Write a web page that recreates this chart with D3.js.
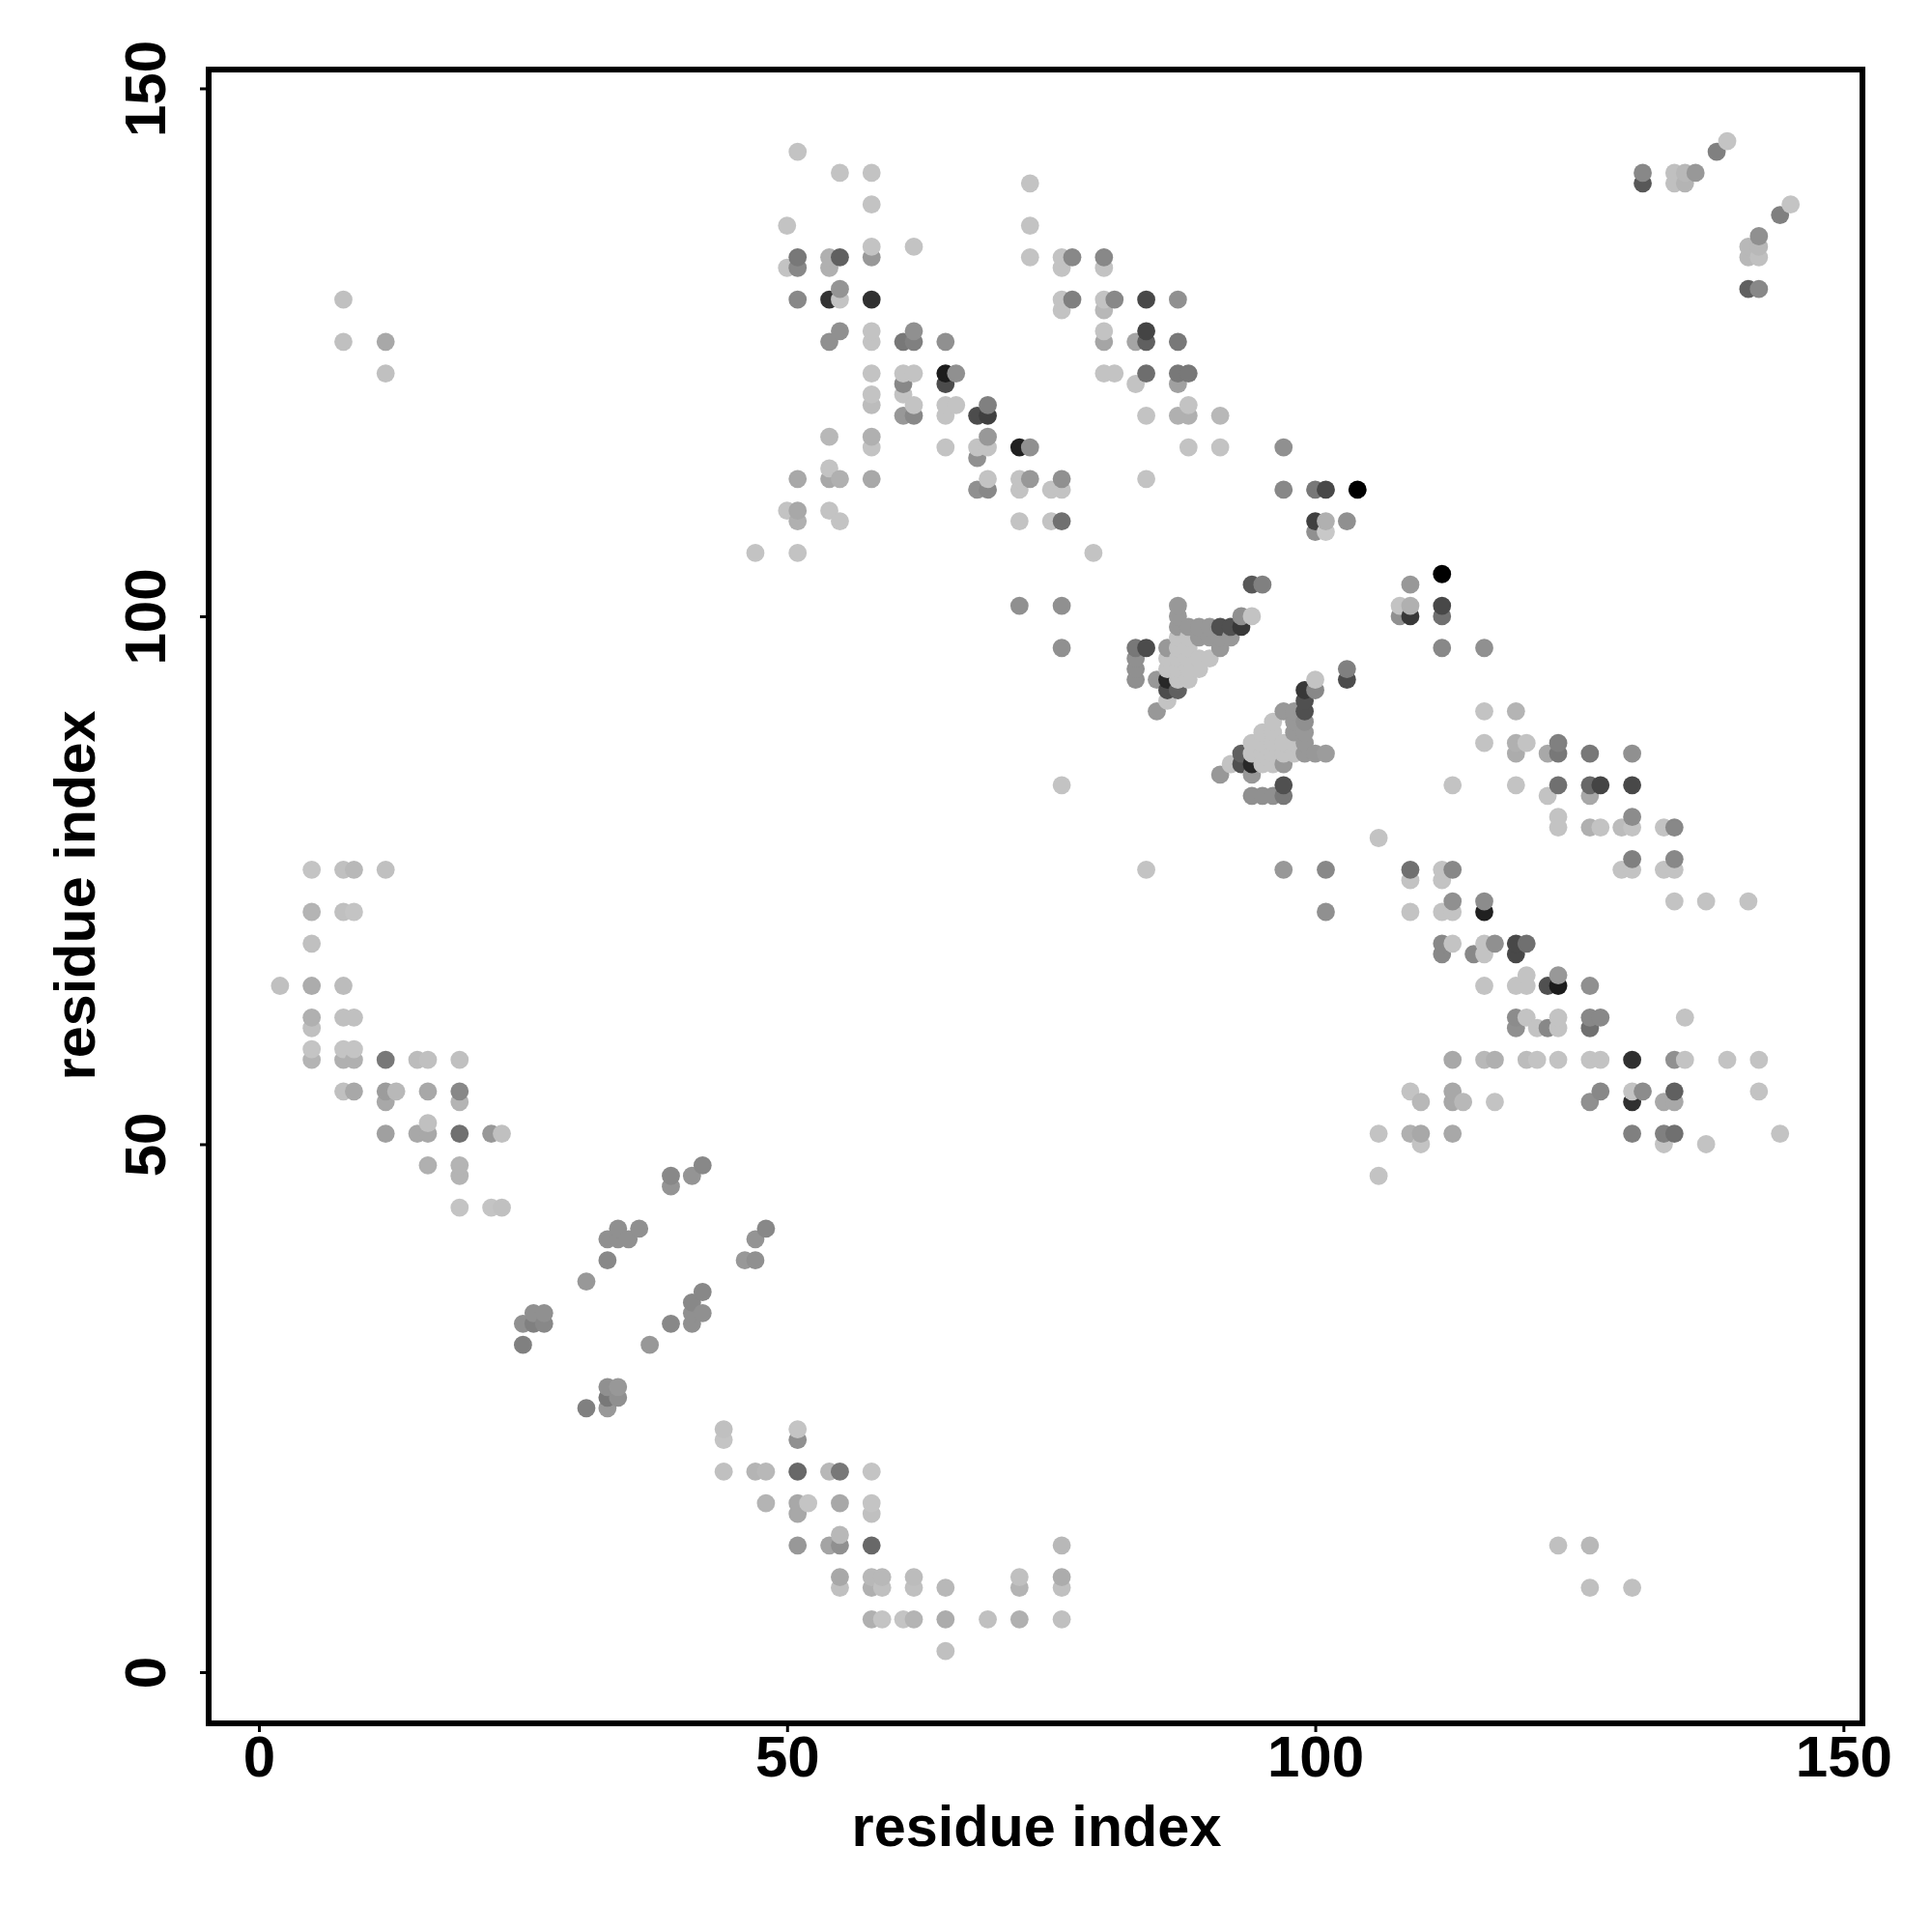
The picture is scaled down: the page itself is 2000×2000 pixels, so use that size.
<!DOCTYPE html>
<html><head><meta charset="utf-8">
<script src="https://cdn.jsdelivr.net/npm/d3@7"></script>
<style>html,body{margin:0;background:#fff}svg{display:block}</style></head>
<body><svg id="c" width="2000" height="2000"></svg>
<script>
// each contact: [residue i, residue j, contact score (0 = none, 255 = strongest)]
const helixLeft = [
[5,76,59],[8,76,63],[9,76,71],[12,76,63],[5,72,75],[8,72,63],[9,72,59],[5,69,63],
[2,65,63],[5,65,83],[8,65,67],[5,62,79],[8,62,63],[9,62,63],[5,61,63],
[5,59,59],[8,59,59],[9,59,59],[5,58,75],[8,58,79],[9,58,79],[12,58,135],[15,58,67],[16,58,63],[19,58,63],
[8,55,63],[9,55,87],[12,55,99],[13,55,71],[16,55,87],[19,55,119],[12,54,87],[19,54,75],[16,52,63],
[12,51,95],[15,51,87],[16,51,87],[19,51,143],[22,51,103],[23,51,63],[16,48,79],[19,48,75],[19,47,75],
[19,44,59],[22,44,59],[23,44,63],[8,130,63],[8,126,63],[12,126,87],[12,123,63]];
const strandCenter = [
[42,48,119],[41,47,107],[39,47,119],[39,46,107],[48,42,119],[47,41,107],[46,39,103],[47,39,111],
[34,42,111],[36,42,111],[33,41,111],[34,41,111],[35,41,111],[33,39,119],[31,37,103],
[42,36,119],[41,35,119],[41,34,111],[42,34,111],[39,33,119],[41,33,111],[37,31,103],
[26,34,111],[27,34,111],[25,33,111],[26,33,127],[27,33,119],[25,31,127],
[33,27,111],[34,27,103],[33,26,135],[34,26,111],[31,25,127],[33,25,103]];
const sheetBottom = [
[44,23,63],[51,23,59],[44,22,59],[51,22,111],[44,19,63],[47,19,75],[48,19,71],[51,19,151],[54,19,71],[55,19,135],[58,19,59],
[48,16,75],[51,16,87],[52,16,59],[55,16,87],[58,16,59],[51,15,87],[58,15,63],[55,13,71],
[51,12,103],[54,12,91],[55,12,111],[58,12,151],[76,12,71],[55,9,87],[58,9,71],[59,9,71],[62,9,67],[72,9,63],[76,9,83],
[55,8,63],[58,8,79],[59,8,63],[62,8,63],[65,8,71],[72,8,75],[76,8,63],
[58,5,79],[59,5,59],[61,5,59],[62,5,75],[65,5,83],[69,5,63],[72,5,79],[76,5,63],[65,2,63],
[123,12,63],[126,12,71],[126,8,63],[130,8,63]];
const sheetTop = [
[51,144,60],[55,142,60],[58,142,60],[73,141,60],[58,139,60],[50,137,60],[73,137,60],[58,135,60],[62,135,60],
[51,134,135],[54,134,79],[55,134,159],[58,134,103],[73,134,60],[76,134,60],[77,134,119],[80,134,119],
[50,133,60],[51,133,119],[54,133,79],[76,133,60],[80,133,60],[55,131,107],
[51,130,119],[54,130,203],[55,130,60],[58,130,207],[76,130,60],[77,130,127],[80,130,60],[81,130,119],[84,130,183],[87,130,111],
[76,129,60],[80,129,71],[55,127,111],[58,127,60],[62,127,111],[80,127,60],[84,127,187],
[54,126,111],[58,126,60],[61,126,135],[62,126,127],[65,126,111],[80,126,90],[83,126,90],[84,126,159],[87,126,135],
[58,123,60],[61,123,60],[62,123,60],[65,123,227],[66,123,111],[80,123,60],[81,123,60],[84,123,145],[87,123,135],[88,123,135],
[61,122,119],[65,122,179],[83,122,60],[87,122,95],[58,121,60],[61,121,60],
[58,120,67],[62,120,60],[65,120,60],[66,120,60],[69,120,127],[88,120,60],
[61,119,103],[62,119,119],[65,119,60],[68,119,179],[69,119,191],[84,119,60],[87,119,79],[88,119,79],[91,119,71],
[54,117,71],[58,117,79],[69,117,103],[58,116,60],[65,116,60],[68,116,60],[69,116,60],[72,116,223],[73,116,111],[88,116,60],[91,116,60],[97,116,111],
[68,115,111],[54,114,60],[51,113,87],[54,113,87],[55,113,79],[58,113,87],[69,113,60],[72,113,60],[73,113,103],[76,113,111],[84,113,60],
[68,112,111],[69,112,119],[72,112,60],[75,112,60],[76,112,60],[97,112,119],[100,112,135],[101,112,183],[104,112,255],
[50,110,60],[51,110,87],[54,110,60],[51,109,79],[55,109,60],[72,109,60],[75,109,60],[76,109,143],
[100,109,191],[101,109,79],[103,109,111],[100,108,111],[101,108,55],[47,106,60],[51,106,60],[79,106,60],
[72,101,111],[76,101,111],[76,97,111],[76,84,60],[84,76,60]];
const clusterUpper = [
[94,103,167],[95,103,127],[87,101,103],[87,100,103],[93,100,111],[94,100,60],
[87,99,103],[88,99,103],[89,99,103],[90,99,103],[91,99,175],[92,99,175],[93,99,199],
[87,98,60],[88,98,60],[89,98,103],[90,98,103],[91,98,103],[92,98,103],
[83,97,135],[84,97,179],[86,97,103],[87,97,60],[88,97,60],[91,97,103],
[83,96,111],[86,96,60],[87,96,60],[88,96,60],[89,96,60],[90,96,60],
[83,95,111],[86,95,60],[87,95,60],[88,95,60],[89,95,60],
[83,94,111],[85,94,103],[86,94,215],[87,94,60],[88,94,60],
[86,93,179],[87,93,159],[86,92,60],[85,91,103],[103,95,127],[103,94,179]];
const clusterLower = [
[100,94,60],[99,93,199],[100,93,119],[99,92,175],[99,91,175],[97,91,103],[98,91,103],
[96,90,60],[98,90,103],[99,90,111],[95,89,60],[96,89,60],[98,89,103],[99,89,103],
[94,88,60],[95,88,60],[96,88,60],[97,88,60],[98,88,60],[99,88,103],
[93,87,159],[94,87,60],[95,87,60],[96,87,60],[97,87,60],[98,87,60],[99,87,103],[100,87,103],[101,87,99],
[92,86,60],[93,86,175],[94,86,215],[95,86,60],[96,86,60],[97,86,103],[91,85,103],[94,85,103],
[97,84,175],[94,83,111],[95,83,111],[96,83,111],[97,83,135]];
const sheetRight = [
[109,103,103],[112,104,255],[108,101,60],[109,101,79],[112,101,183],[108,100,111],[109,100,199],[112,100,143],[112,97,119],[116,97,111],
[116,91,60],[119,91,75],[116,88,60],[119,88,79],[120,88,60],[123,88,127],
[119,87,83],[122,87,87],[123,87,135],[126,87,135],[130,87,111],
[113,84,60],[119,84,60],[123,84,143],[126,84,151],[127,84,187],[130,84,183],[122,83,60],[126,83,87],
[123,81,60],[130,81,115],[123,80,60],[126,80,79],[127,80,60],[129,80,67],[130,80,60],[133,80,60],[134,80,119],
[106,79,60],[130,77,127],[134,77,119],
[97,76,103],[101,76,119],[109,76,143],[112,76,60],[113,76,119],[129,76,60],[130,76,60],[133,76,60],[134,76,60],
[109,75,60],[112,75,60],[113,73,111],[116,73,115],[134,73,60],[137,73,60],[141,73,60],
[101,72,111],[109,72,60],[112,72,60],[113,72,60],[116,72,223],
[112,69,119],[113,69,60],[116,69,60],[117,69,111],[119,69,183],[120,69,143],[112,68,119],[115,68,119],[116,68,60],[119,68,183],
[120,66,60],[123,66,103],[116,65,60],[119,65,60],[120,65,60],[122,65,175],[123,65,227],[126,65,111],
[119,62,115],[120,62,60],[123,62,60],[126,62,119],[127,62,119],[135,62,60],[119,61,111],[121,61,60],[122,61,119],[123,61,60],[126,61,143],
[113,58,87],[116,58,71],[117,58,79],[120,58,67],[121,58,60],[123,58,60],[126,58,60],[127,58,60],[130,58,207],[134,58,111],[135,58,60],[139,58,60],[142,58,60],
[109,55,60],[113,55,87],[127,55,119],[130,55,60],[131,55,115],[134,55,159],[142,55,60],
[110,54,71],[113,54,87],[114,54,71],[117,54,60],[126,54,111],[130,54,207],[133,54,87],[134,54,87],
[106,51,60],[109,51,79],[110,51,87],[113,51,87],[130,51,127],[133,51,127],[134,51,143],[144,51,60],
[110,50,60],[133,50,60],[137,50,60],[106,47,60]];
const cornerTop = [
[131,142,119],[131,141,167],[134,142,63],[134,141,63],[135,142,71],[135,141,75],[136,142,103],
[138,144,127],[139,145,59],[144,138,127],[145,139,59],[142,136,111],[141,135,71],[142,135,71],
[141,134,71],[142,134,63],[141,131,159],[142,131,119]];
const xTicks = [0,50,100,150];
const yTicks = [0,50,100,150];
const axisTitle = "residue index";

const svg = d3.select("#c");
const x = d3.scaleLinear().domain([-4.755,151.8]).range([216,1928]);
const y = d3.scaleLinear().domain([-4.85,151.78]).range([1784,72]);
const shade = d3.scaleLinear().domain([0,255]).range(["#ffffff","#000000"]);
const FONT = "'Liberation Sans',Arial,sans-serif";

const contacts = [].concat(helixLeft,strandCenter,sheetBottom,sheetTop,clusterUpper,clusterLower,sheetRight,cornerTop)
  .sort((a,b)=>d3.ascending(a[0],b[0])||d3.ascending(a[1],b[1]));

svg.append("g").selectAll("circle").data(contacts).join("circle")
  .attr("cx",d=>x(d[0])).attr("cy",d=>y(d[1])).attr("r",9.4).attr("fill",d=>shade(d[2]));

svg.append("rect").attr("x",x.range()[0]).attr("y",y.range()[1])
  .attr("width",x.range()[1]-x.range()[0]).attr("height",y.range()[0]-y.range()[1])
  .attr("fill","none").attr("stroke","#000").attr("stroke-width",6);

const ax = svg.append("g").attr("transform",`translate(0,${y.range()[0]})`)
  .call(d3.axisBottom(x).tickValues(xTicks).tickSize(9).tickPadding(0));
ax.select(".domain").remove();
ax.selectAll("line").attr("stroke","#000").attr("stroke-width",3);
ax.selectAll("text").attr("font-family",FONT).attr("font-weight","bold").attr("font-size",60)
  .attr("fill","#000").attr("dy",null).attr("y",55).attr("text-anchor","middle");

const ay = svg.append("g").attr("transform",`translate(${x.range()[0]},0)`)
  .call(d3.axisLeft(y).tickValues(yTicks).tickSize(9).tickPadding(0));
ay.select(".domain").remove();
ay.selectAll("line").attr("stroke","#000").attr("stroke-width",3);
ay.selectAll("text").attr("font-family",FONT).attr("font-weight","bold").attr("font-size",60)
  .attr("fill","#000").attr("dy",null).attr("x",null).attr("y",null)
  .attr("text-anchor","middle").attr("transform","translate(-45,0) rotate(-90)");

svg.append("text").attr("x",1073).attr("y",1910.5).attr("text-anchor","middle")
  .attr("font-family",FONT).attr("font-weight","bold").attr("font-size",59.4).text(axisTitle);
svg.append("text").attr("transform","translate(98,927) rotate(-90)").attr("text-anchor","middle")
  .attr("font-family",FONT).attr("font-weight","bold").attr("font-size",59.4).text(axisTitle);
</script></body></html>
